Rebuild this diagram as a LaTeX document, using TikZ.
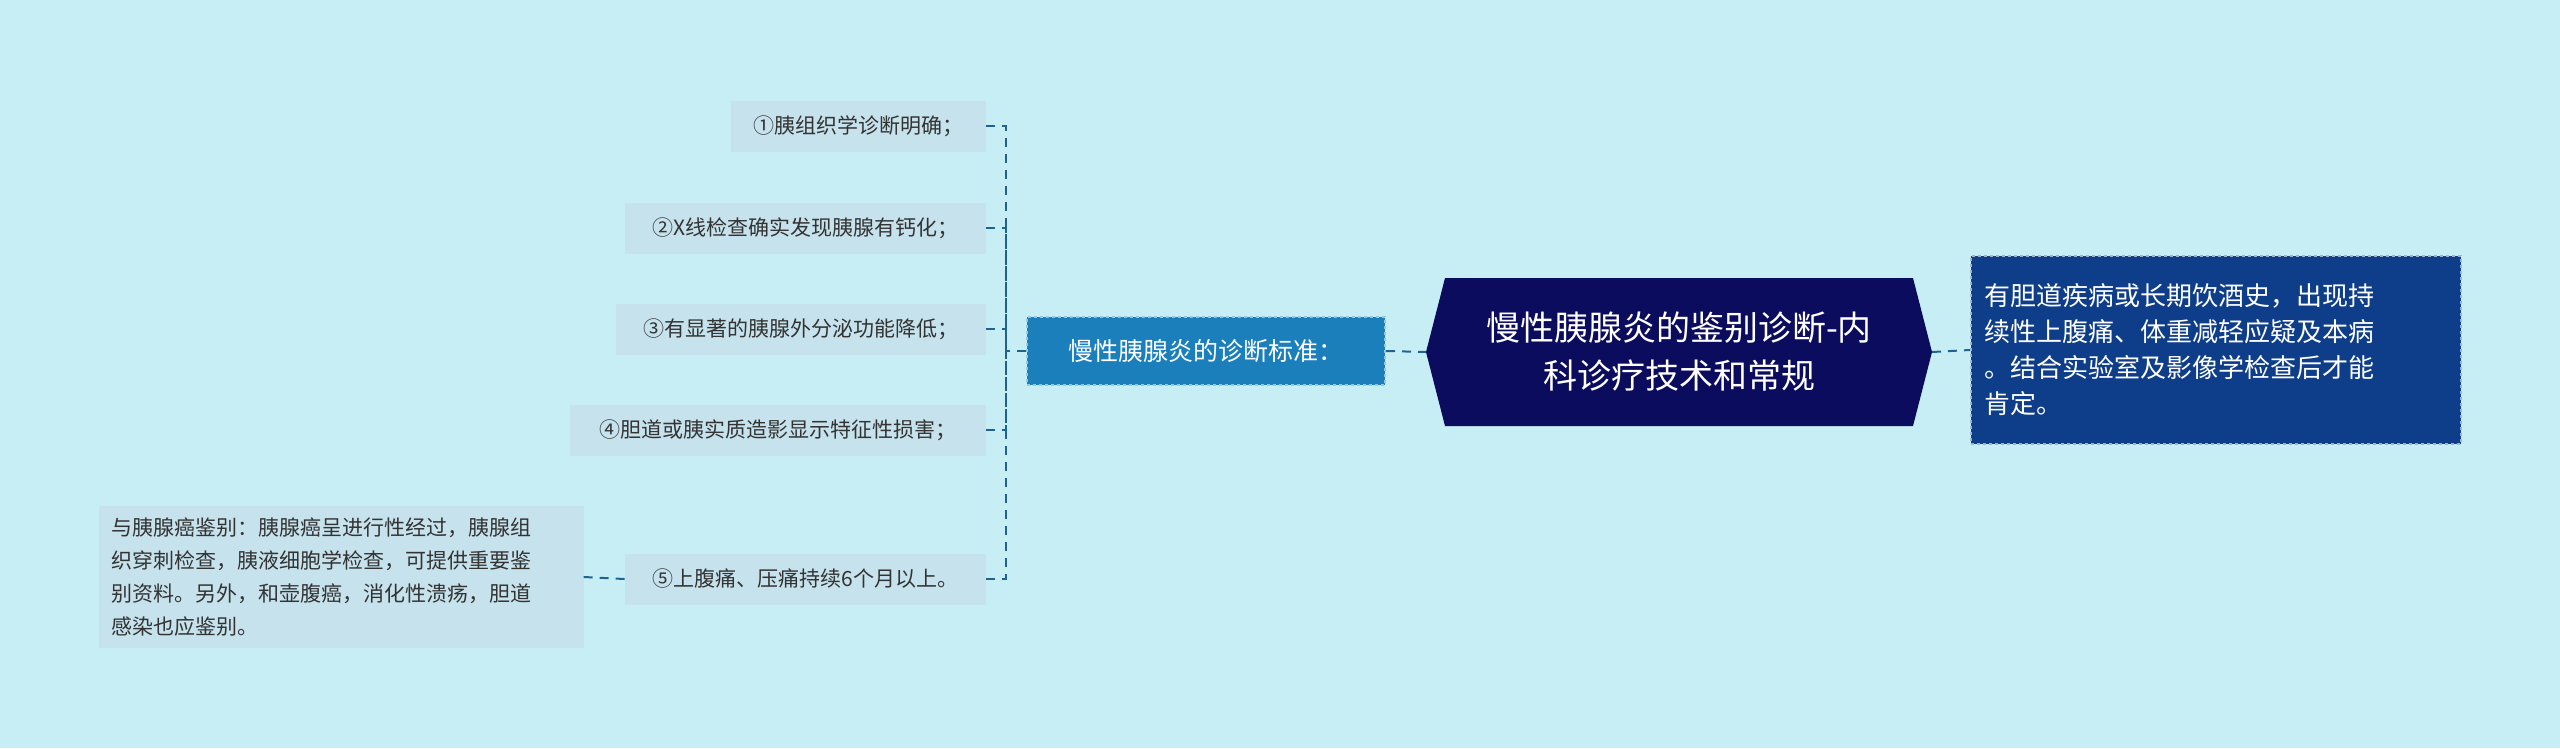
\documentclass[tikz,border=0pt]{standalone}
\usepackage{fontspec}
\setmainfont{Noto Sans CJK SC}
\begin{document}
\begin{tikzpicture}[x=1pt,y=-1pt,
 leaf/.style={fill=leafc,inner sep=0pt,minimum height=51pt,font=\fontsize{21}{26}\selectfont,text=black!80},
 conn/.style={draw=linec,dashed,line width=2pt,dash pattern=on 9pt off 7pt}]
\definecolor{bg}{HTML}{C8EEF5}
\definecolor{leafc}{HTML}{C6E2EC}
\definecolor{hexc}{HTML}{0B0C5E}
\definecolor{rbox}{HTML}{0E3E8A}
\definecolor{midc}{HTML}{1B7FBC}
\definecolor{linec}{HTML}{1D6590}
\fill[bg] (0,0) rectangle (2560,748);
\useasboundingbox (0,0) rectangle (2560,748);
% central hexagon
\fill[hexc] (1445,278) -- (1913,278) -- (1932,352) -- (1913,426) -- (1445,426) -- (1426,352) -- cycle;
\node[text=white,align=center,font=\fontsize{34}{48}\selectfont] (c) at (1679,352) {慢性胰腺炎的鉴别诊断-内\\科诊疗技术和常规};
\coordinate (cl) at (1426,352); \coordinate (cr) at (1932,352);
% right box
\node[fill=rbox,draw=white!60!rbox,dashed,line width=2pt,minimum width=490pt,minimum height=188pt,inner sep=0pt] (r) at (2216,350) {};
\node[text=white,align=left,anchor=west,font=\fontsize{26}{36}\selectfont] at (1981,350) {有胆道疾病或长期饮酒史，出现持\\续性上腹痛、体重减轻应疑及本病\\。结合实验室及影像学检查后才能\\肯定。};
% mid
\node[fill=midc,draw=white!55!midc,dashed,line width=2pt,minimum width=358pt,minimum height=68pt,inner sep=0pt,text=white,font=\fontsize{25}{30}\selectfont] (m) at (1206,351) {慢性胰腺炎的诊断标准：};
% leaves
\node[leaf,minimum width=255pt,anchor=east] (l1) at (986,126) {①胰组织学诊断明确；};
\node[leaf,minimum width=361pt,anchor=east] (l2) at (986,228) {②X线检查确实发现胰腺有钙化；};
\node[leaf,minimum width=370pt,anchor=east] (l3) at (986,329) {③有显著的胰腺外分泌功能降低；};
\node[leaf,minimum width=416pt,anchor=east] (l4) at (986,430) {④胆道或胰实质造影显示特征性损害；};
\node[leaf,minimum width=361pt,anchor=east] (l5) at (986,579) {⑤上腹痛、压痛持续6个月以上。};
\node[fill=leafc,minimum width=485pt,minimum height=142pt,inner sep=0pt] (d) at (341,577) {};
\node[anchor=west,align=left,font=\fontsize{21}{33}\selectfont,text=black!80] at (108,577) {与胰腺癌鉴别：胰腺癌呈进行性经过，胰腺组\\织穿刺检查，胰液细胞学检查，可提供重要鉴\\别资料。另外，和壶腹癌，消化性溃疡，胆道\\感染也应鉴别。};
% connectors
\draw[conn] (cr) -- (r.west);
\draw[conn] (m.east) -- (cl);
\coordinate (j) at (1006,351);
\draw[conn] (m.west) -- (j);
\draw[conn] (l1.east) -| (j);
\draw[conn] (l2.east) -| (j);
\draw[conn] (l3.east) -| (j);
\draw[conn] (l4.east) -| (j);
\draw[conn] (l5.east) -| (j);
\draw[conn] (l5.west) -- (d.east);
\end{tikzpicture}
\end{document}
